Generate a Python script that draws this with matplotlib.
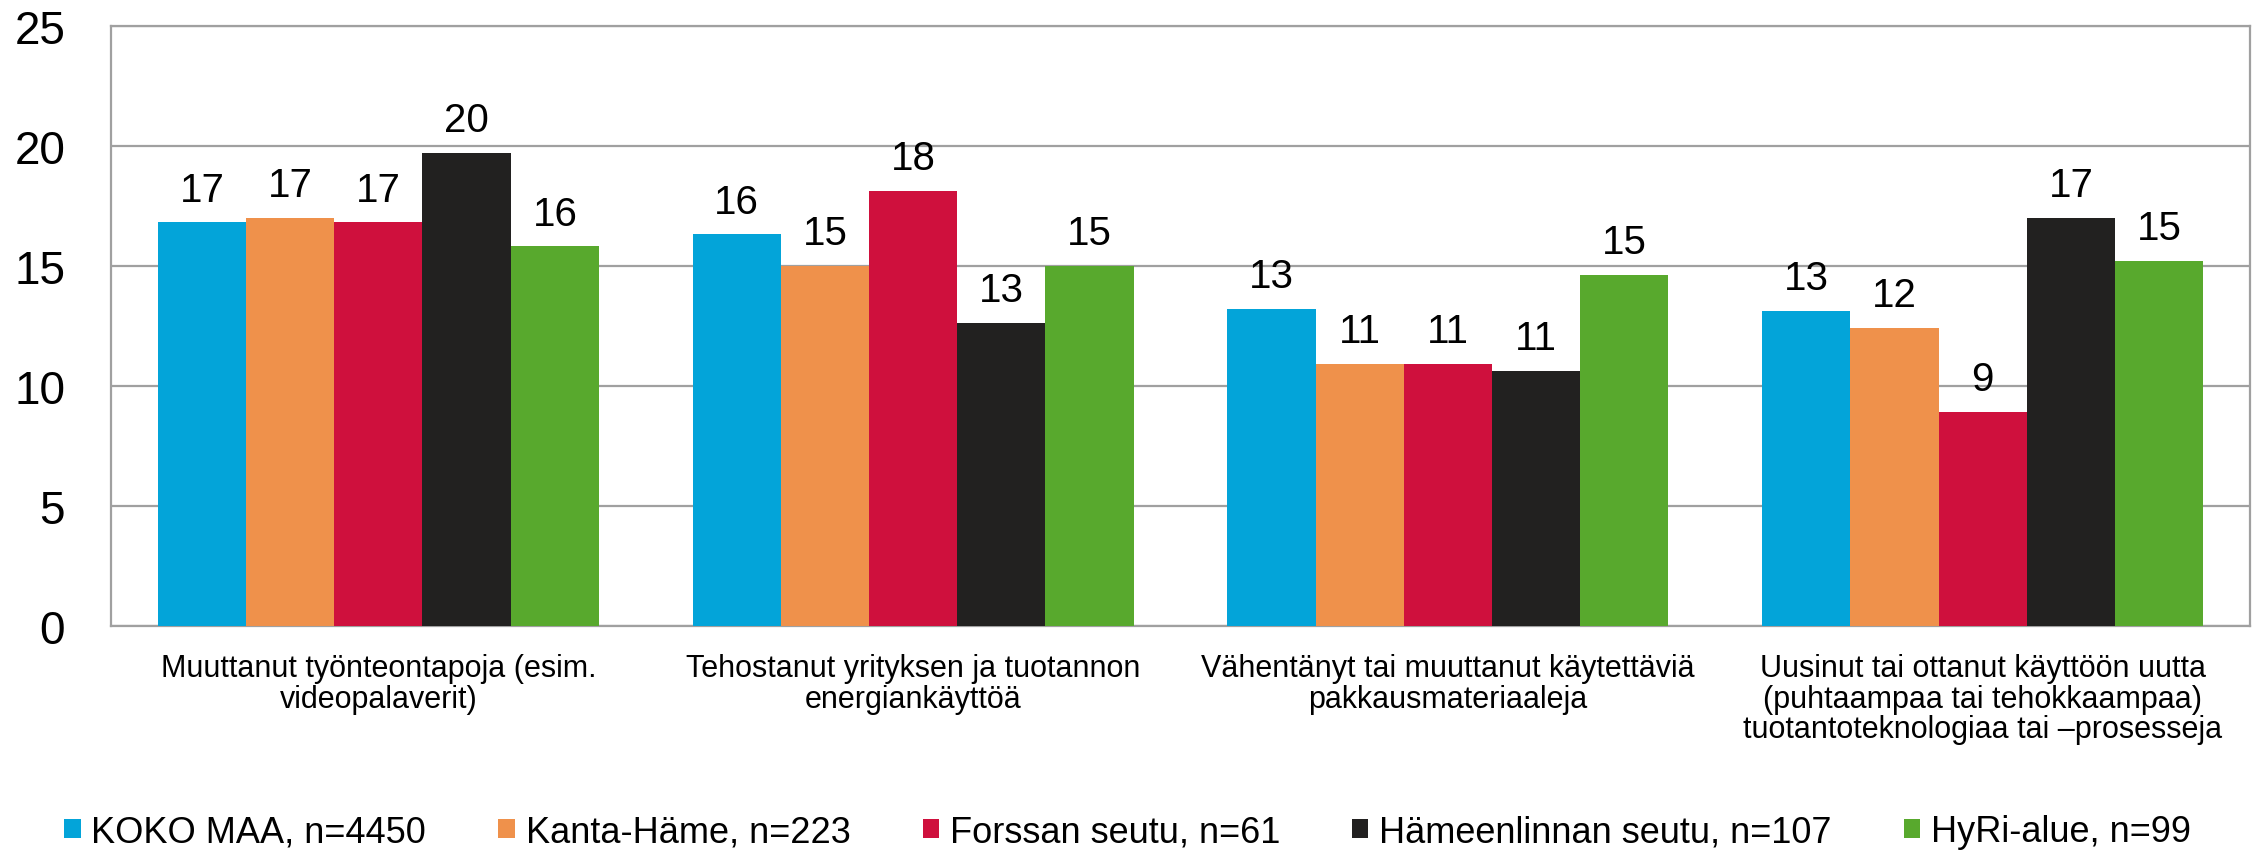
import numpy as np
import matplotlib.pyplot as plt

plt.rcParams['font.family'] = ['Liberation Sans', 'DejaVu Sans']

categories = [
    "Muuttanut työnteontapoja (esim.\nvideopalaverit)",
    "Tehostanut yrityksen ja tuotannon\nenergiankäyttöä",
    "Vähentänyt tai muuttanut käytettäviä\npakkausmateriaaleja",
    "Uusinut tai ottanut käyttöön uutta\n(puhtaampaa tai tehokkaampaa)\ntuotantoteknologiaa tai \u2013prosesseja",
]
series_names = [
    "KOKO MAA, n=4450",
    "Kanta-Häme, n=223",
    "Forssan seutu, n=61",
    "Hämeenlinnan seutu, n=107",
    "HyRi-alue, n=99",
]
koko_maa = [16.8, 16.3, 13.2, 13.1]
kanta_hame = [17.0, 15.0, 10.9, 12.4]
forssa = [16.8, 18.1, 10.9, 8.9]
hameenlinna = [19.7, 12.6, 10.6, 17.0]
hyri = [15.8, 15.0, 14.6, 15.2]
values = [koko_maa, kanta_hame, forssa, hameenlinna, hyri]
colors = ['#03A4D9', '#EF914B', '#CF103D', '#222120', '#58A92D']

fig = plt.figure(figsize=(22.6, 8.53), dpi=100)
ax = fig.add_axes([0.0491, 0.2653, 0.9465, 0.7034])

x = np.arange(len(categories))
width = 0.165
for i, (name, vals, col) in enumerate(zip(series_names, values, colors)):
    pos = x + (i - 2) * width
    bars = ax.bar(pos, vals, width, color=col, label=name, zorder=3)
    for b, v in zip(bars, vals):
        ax.annotate(f"{v:.0f}", (b.get_x() + b.get_width() / 2, v),
                    xytext=(0, 10), textcoords='offset points',
                    ha='center', va='bottom', fontsize=29)

ax.set_xlim(-0.5, len(categories) - 0.5)
ax.set_ylim(0, 25)
ax.set_yticks(range(0, 26, 5))
ax.set_xticks(x)
ax.set_xticklabels(categories, fontsize=22, linespacing=1.02)
ax.tick_params(axis='y', length=0, pad=33, labelsize=33)
ax.tick_params(axis='x', length=0, pad=20)

ax.grid(axis='y', color='#A0A0A0', linewidth=1.6, zorder=0)
for s in ax.spines.values():
    s.set_color('#A0A0A0')
    s.set_linewidth(1.6)

fig.legend(loc='center', bbox_to_anchor=(0.499, 1 - 833 / 853), ncol=5,
           frameon=False, fontsize=26, handlelength=0.45, handleheight=0.45,
           handletextpad=0.3, columnspacing=2.0)

fig.savefig('out.png', dpi=100)
